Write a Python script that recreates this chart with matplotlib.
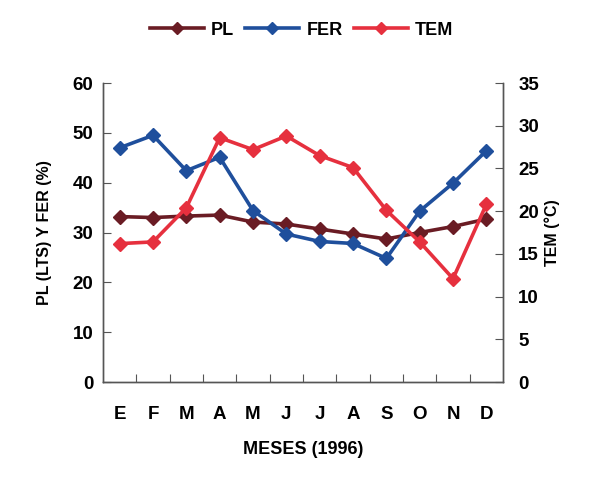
import numpy as np
import matplotlib.pyplot as plt

plt.rcParams['font.family'] = ['Liberation Sans', 'DejaVu Sans']
plt.rcParams['font.weight'] = 'bold'

meses = ['E', 'F', 'M', 'A', 'M', 'J', 'J', 'A', 'S', 'O', 'N', 'D']
pl = [33.2, 33.0, 33.3, 33.5, 32.1, 31.7, 30.7, 29.7, 28.7, 30.0, 31.2, 32.7]
fer = [47.0, 49.5, 42.4, 45.1, 34.4, 29.7, 28.2, 27.8, 24.8, 34.3, 39.9, 46.4]
tem = [16.2, 16.4, 20.4, 28.6, 27.2, 28.8, 26.5, 25.1, 20.1, 16.4, 12.1, 20.8]

c_pl = '#6a1c24'
c_fer = '#1f4f9c'
c_tem = '#e6303e'

fig = plt.figure(figsize=(6.03, 4.84), dpi=100)
ax = fig.add_axes([0.1708, 0.2107, 0.6634, 0.6178])
ax2 = ax.twinx()

x = np.arange(len(meses))
l1, = ax.plot(x, pl, color=c_pl, lw=2.6, marker='D', ms=7.5, label='PL')
l2, = ax.plot(x, fer, color=c_fer, lw=2.6, marker='D', ms=7.5, label='FER')
l3, = ax2.plot(x, tem, color=c_tem, lw=2.6, marker='D', ms=7.5, label='TEM')

ax.set_xlim(-0.5, 11.5)
ax.set_ylim(0, 60)
ax2.set_ylim(0, 35)
ax.set_yticks(np.arange(0, 61, 10))
ax2.set_yticks(np.arange(0, 36, 5))

# tick marks between months, labels centred on each month
ax.set_xticks(np.arange(0.5, 11, 1))
ax.set_xticklabels([])
ax.set_xticks(x, minor=True)
ax.set_xticklabels(meses, minor=True)
ax.tick_params(axis='x', which='minor', length=0, pad=17, labelsize=13.5)
ax.tick_params(axis='x', which='major', direction='in', length=6, color='#555555')
ax.tick_params(axis='y', direction='in', length=6, color='#555555', labelsize=13.5, pad=7)
ax2.tick_params(axis='y', direction='in', length=6, color='#555555', labelsize=13.5, pad=11)

for a in (ax, ax2):
    a.spines['top'].set_visible(False)
    for s in ('left', 'right', 'bottom'):
        a.spines[s].set_color('#555555')
        a.spines[s].set_linewidth(1.0)

ax.set_xlabel('MESES (1996)', fontsize=13, fontweight='bold', labelpad=13)
ax.set_ylabel('PL (LTS) Y FER (%)', fontsize=11.5, fontweight='bold', labelpad=15)
ax2.set_ylabel('TEM (°C)', fontsize=11.5, fontweight='bold', labelpad=4)

fig.legend(handles=[l1, l2, l3], loc='center', bbox_to_anchor=(0.5, 0.938),
           ncol=3, frameon=False, fontsize=13, handlelength=3.0,
           columnspacing=0.6, handletextpad=0.4, markerscale=0.8)

plt.savefig('out.png', dpi=100)
